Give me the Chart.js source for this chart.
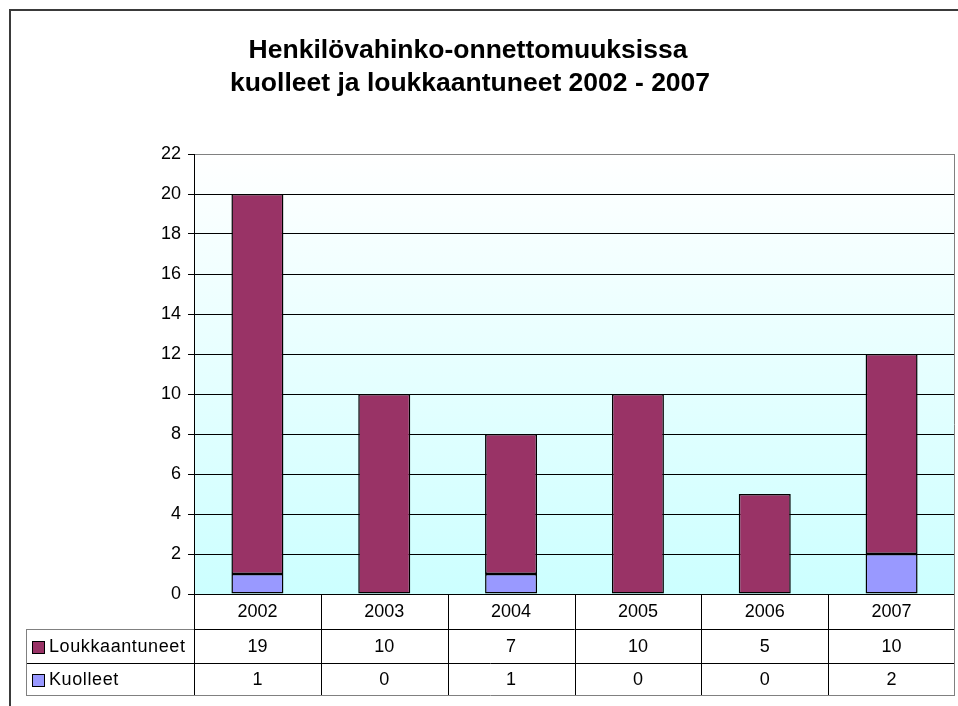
<!DOCTYPE html>
<html>
<head>
<meta charset="utf-8">
<script src="https://cdn.jsdelivr.net/npm/chart.js@4.4.0/dist/chart.umd.min.js"></script>
<style>
    body { margin: 0; background: #fff; }
    canvas { display: block; }
</style>
</head>
<body>
<canvas id="chart" width="958" height="706"></canvas>
<script>
// Data
const years = ['2002', '2003', '2004', '2005', '2006', '2007'];
const loukkaantuneet = [19, 10, 7, 10, 5, 10];
const kuolleet = [1, 0, 1, 0, 0, 2];
const titleLines = ['Henkilövahinko-onnettomuuksissa', 'kuolleet ja loukkaantuneet 2002 - 2007'];
const yMax = 22;
const yStep = 2;

const FONT = '"Liberation Sans", Arial, sans-serif';
const COLOR_INJ = '#993366';
const COLOR_KILL = '#9999ff';

// Table rows drawn under the plot (top to bottom)
const tableRows = [
    { label: 'Loukkaantuneet', color: COLOR_INJ, values: loukkaantuneet },
    { label: 'Kuolleet', color: COLOR_KILL, values: kuolleet }
];

const frame = {
    id: 'frame',
    beforeDraw(chart) {
        const { ctx, chartArea: a } = chart;
        ctx.save();
        ctx.fillStyle = '#fff';
        ctx.fillRect(0, 0, chart.width, chart.height);

        // plot area gradient
        const g = ctx.createLinearGradient(0, a.top, 0, a.bottom);
        g.addColorStop(0, '#ffffff');
        g.addColorStop(1, '#ccffff');
        ctx.fillStyle = g;
        ctx.fillRect(a.left, a.top, a.right - a.left, a.bottom - a.top);

        // outer chart border
        ctx.strokeStyle = '#3a3a3a';
        ctx.lineWidth = 2;
        ctx.beginPath();
        ctx.moveTo(10, chart.height + 2);
        ctx.lineTo(10, 10);
        ctx.lineTo(chart.width + 2, 10);
        ctx.stroke();

        // title
        ctx.fillStyle = '#000';
        ctx.font = 'bold 26.5px ' + FONT;
        ctx.textAlign = 'center';
        ctx.textBaseline = 'alphabetic';
        ctx.fillText(titleLines[0], 468, 58);
        ctx.fillText(titleLines[1], 470, 91);
        ctx.restore();
    },
    afterDraw(chart) {
        const { ctx, chartArea: a, scales: { x } } = chart;
        const colW = (a.right - a.left) / years.length;
        const rowY = [a.bottom, 629, 663, 695];
        const tableLeft = 26;

        ctx.save();
        ctx.lineWidth = 1;

        // inner table lines
        ctx.strokeStyle = '#000';
        ctx.beginPath();
        for (let i = 1; i < years.length; i++) {
            const px = Math.round(a.left + i * colW) + 0.5;
            ctx.moveTo(px, a.bottom);
            ctx.lineTo(px, rowY[3]);
        }
        ctx.moveTo(a.left + 0.5, a.bottom);
        ctx.lineTo(a.left + 0.5, rowY[3]);
        ctx.moveTo(tableLeft, rowY[2] + 0.5);
        ctx.lineTo(a.right, rowY[2] + 0.5);
        ctx.moveTo(a.left, rowY[1] + 0.5);
        ctx.lineTo(a.right, rowY[1] + 0.5);
        ctx.stroke();

        // outer table / plot border
        ctx.strokeStyle = '#808080';
        ctx.beginPath();
        ctx.moveTo(tableLeft, rowY[1] + 0.5);
        ctx.lineTo(a.left, rowY[1] + 0.5);
        ctx.moveTo(tableLeft + 0.5, rowY[1]);
        ctx.lineTo(tableLeft + 0.5, rowY[3]);
        ctx.moveTo(tableLeft, rowY[3] + 0.5);
        ctx.lineTo(a.right, rowY[3] + 0.5);
        ctx.moveTo(a.right - 0.5, a.top);
        ctx.lineTo(a.right - 0.5, rowY[3]);
        ctx.stroke();

        // text
        ctx.fillStyle = '#000';
        ctx.font = '18px ' + FONT;
        ctx.textBaseline = 'middle';
        ctx.textAlign = 'center';
        years.forEach((yr, i) => {
            const cx = x.getPixelForValue(i);
            ctx.fillText(yr, cx, (rowY[0] + rowY[1]) / 2 + 1);
            tableRows.forEach((row, r) => {
                ctx.fillText(String(row.values[i]), cx, (rowY[r + 1] + rowY[r + 2]) / 2 + 1);
            });
        });

        // row labels with legend keys
        ctx.textAlign = 'left';
        ctx.letterSpacing = '0.6px';
        tableRows.forEach((row, r) => {
            const cy = (rowY[r + 1] + rowY[r + 2]) / 2;
            ctx.fillStyle = row.color;
            ctx.fillRect(32, cy - 5, 12, 12);
            ctx.strokeStyle = '#000';
            ctx.strokeRect(32.5, cy - 4.5, 12, 12);
            ctx.fillStyle = '#000';
            ctx.fillText(row.label, 49, cy + 1);
        });
        ctx.restore();
    }
};

new Chart(document.getElementById('chart'), {
    type: 'bar',
    data: {
        labels: years,
        datasets: [
            {
                label: 'Kuolleet',
                data: kuolleet,
                backgroundColor: COLOR_KILL,
                borderColor: '#000',
                borderWidth: 1.5,
                borderSkipped: false
            },
            {
                label: 'Loukkaantuneet',
                data: loukkaantuneet,
                backgroundColor: COLOR_INJ,
                borderColor: '#000',
                borderWidth: 1.5,
                borderSkipped: false
            }
        ]
    },
    options: {
        responsive: false,
        animation: false,
        events: [],
        layout: { padding: { left: 0, right: 3, top: 154, bottom: 112 } },
        datasets: { bar: { categoryPercentage: 1, barPercentage: 0.41 } },
        plugins: {
            legend: { display: false },
            title: { display: false },
            tooltip: { enabled: false }
        },
        scales: {
            x: {
                stacked: true,
                display: false
            },
            y: {
                stacked: true,
                min: 0,
                max: yMax,
                afterFit(scale) { scale.width = 194; },
                ticks: {
                    stepSize: yStep,
                    color: '#000',
                    padding: 7,
                    font: { family: FONT, size: 18 }
                },
                grid: {
                    color: ctx => ctx.tick && ctx.tick.value === yMax ? '#808080' : '#000',
                    tickColor: '#000',
                    tickLength: 6
                },
                border: { display: true, color: '#000', width: 1 }
            }
        }
    },
    plugins: [frame]
});
</script>
</body>
</html>
